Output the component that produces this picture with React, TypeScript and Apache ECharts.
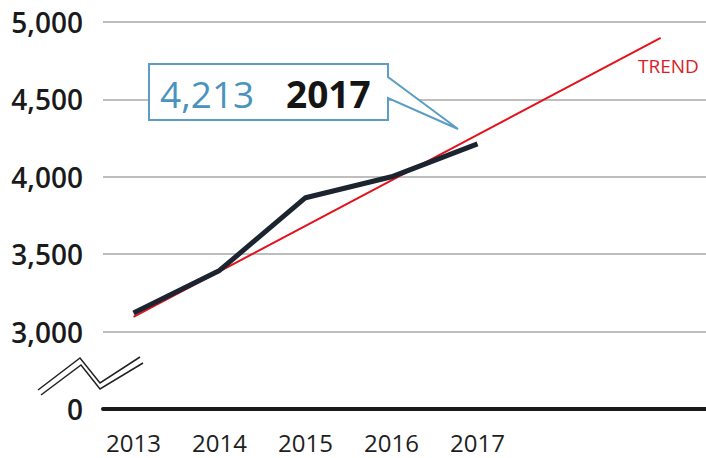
import React, { useEffect, useRef } from "react";
import * as echarts from "echarts";

const years = [2013, 2014, 2015, 2016, 2017];
const values = [3120, 3395, 3865, 4000, 4213];
const trendYears = [2013, 2019.13];
const trendValues = [3095, 4897];
const yMin = 2500;
const yMax = 5000;
const yStep = 500;
const trendLabel = "TREND";

export default function App() {
  const ref = useRef<HTMLDivElement>(null);
  useEffect(() => {
    if (!ref.current) return;
    const chart = echarts.init(ref.current, null, { renderer: "svg" });
    const lastVal = values[values.length - 1];
    const lastYear = years[years.length - 1];
    chart.setOption({
      animation: false,
      backgroundColor: "#ffffff",
      grid: { left: 103, right: 0, top: 22, bottom: 49 },
      xAxis: {
        type: "value",
        min: 2012.645,
        max: 2019.657,
        splitLine: { show: false },
        axisTick: { show: false },
        axisLine: { show: true, onZero: false, lineStyle: { color: "#1a1a1a", width: 4 } },
        axisLabel: {
          customValues: years,
          formatter: (v: number) => String(v),
          fontFamily: "Open Sans",
          fontSize: 24,
          lineHeight: 20,
          color: "#1e1e1e",
          margin: 23,
        },
      },
      yAxis: {
        type: "value",
        min: yMin,
        max: yMax,
        interval: yStep,
        axisLine: { show: false },
        axisTick: { show: false },
        splitLine: { show: true, lineStyle: { color: "#a8a8a8", width: 1.5 } },
        axisLabel: {
          formatter: (v: number) => (v === yMin ? "0" : v.toLocaleString("en-US")),
          fontFamily: "Open Sans",
          fontWeight: 600,
          fontSize: 28,
          color: "#1a1a1a",
          margin: 20,
        },
      },
      series: [
        {
          type: "line",
          name: "trend",
          data: trendYears.map((y, i) => [y, trendValues[i]]),
          symbol: "none",
          lineStyle: { color: "#e3121c", width: 2 },
          z: 2,
        },
        {
          type: "line",
          name: "value",
          data: years.map((y, i) => [y, values[i]]),
          symbol: "none",
          lineStyle: { color: "#1c2430", width: 5 },
          z: 3,
        },
      ],
      graphic: [
        {
          type: "polygon",
          z: 10,
          shape: {
            points: [
              [149, 64],
              [388, 64],
              [388, 77],
              [458, 129],
              [388, 98],
              [388, 120],
              [149, 120],
            ],
          },
          style: { fill: "#ffffff", stroke: "#5b9dc4", lineWidth: 2 },
        },
        {
          type: "text",
          z: 11,
          x: 160,
          y: 93,
          style: {
            text: lastVal.toLocaleString("en-US"),
            fontFamily: "Open Sans",
            fontSize: 37,
            fill: "#4a93be",
            verticalAlign: "middle",
            align: "left",
          },
        },
        {
          type: "text",
          z: 11,
          x: 286,
          y: 93,
          style: {
            text: String(lastYear),
            fontFamily: "Open Sans",
            fontWeight: "bold",
            fontSize: 37,
            fill: "#151515",
            verticalAlign: "middle",
            align: "left",
          },
        },
        {
          type: "text",
          z: 11,
          x: 638,
          y: 66,
          style: {
            text: trendLabel,
            fontFamily: "Open Sans",
            fontSize: 19,
            fill: "#d81e28",
            verticalAlign: "middle",
            align: "left",
          },
        },
        {
          type: "polyline",
          z: 11,
          shape: { points: [[38, 390], [80, 358], [100, 383], [140, 357]] },
          style: { stroke: "#222222", lineWidth: 1.5, fill: null },
        },
        {
          type: "polyline",
          z: 11,
          shape: { points: [[41, 395], [81, 365], [100, 389], [143, 363]] },
          style: { stroke: "#222222", lineWidth: 1.5, fill: null },
        },
      ],
    });
    return () => chart.dispose();
  }, []);
  return (
    <div
      ref={ref}
      style={{ position: "fixed", left: 0, top: 0, width: 706, height: 458, background: "#fff" }}
    />
  );
}
